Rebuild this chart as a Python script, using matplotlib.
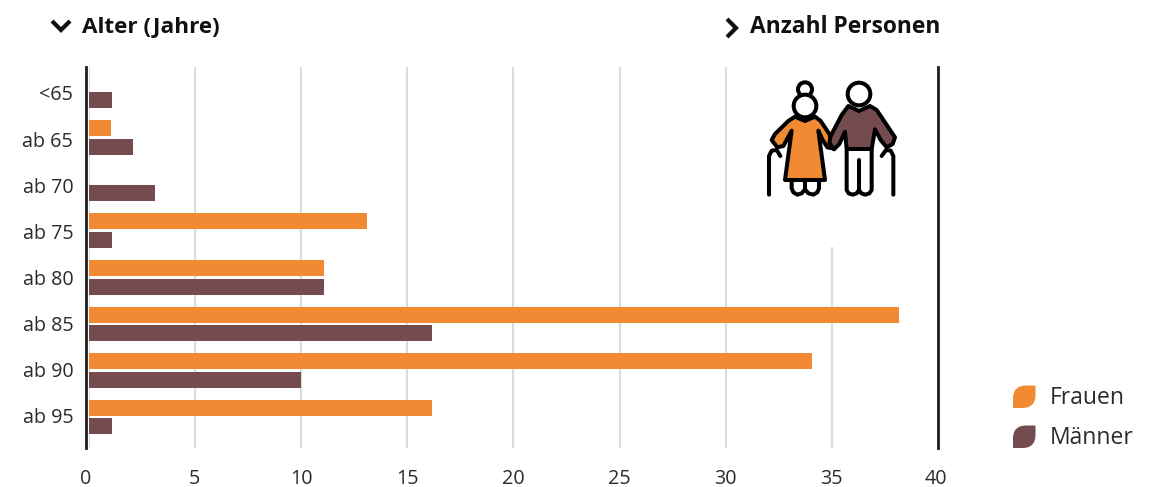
import matplotlib
matplotlib.use("Agg")
import matplotlib.pyplot as plt
import numpy as np
from matplotlib.path import Path
from matplotlib.patches import PathPatch, Circle, Polygon, Rectangle
from matplotlib.transforms import ScaledTranslation

categories = ["<65", "ab 65", "ab 70", "ab 75", "ab 80", "ab 85", "ab 90", "ab 95"]
frauen = [0, 1.05, 0, 13.1, 11.1, 38.15, 34.05, 16.15]
maenner = [1.1, 2.1, 3.1, 1.1, 11.1, 16.15, 10.0, 1.1]
x_ticks = [0, 5, 10, 15, 20, 25, 30, 35, 40]

ORANGE = "#F28A33"
MAROON = "#744C4F"
DARK = "#2B2B2B"
W, H = 1160, 487
plt.rcParams["font.family"] = ["Open Sans", "DejaVu Sans"]

fig = plt.figure(figsize=(W / 100, H / 100), dpi=100)
X0, X40, TOP, BOT = 88.7, 938.0, 67.0, 448.0
ax = fig.add_axes([X0 / W, 1 - BOT / H, (X40 - X0) / W, (BOT - TOP) / H])
RC0, RS = 90.9, 46.6
ax.set_xlim(0, 40)
ax.set_ylim((BOT - RC0) / RS, (TOP - RC0) / RS)
y = np.arange(len(categories))
off, bh = 9.3 / RS, 16.0 / RS
ax.barh(y - off, frauen, height=bh, color=ORANGE, zorder=3)
ax.barh(y + off, maenner, height=bh, color=MAROON, zorder=3)
ax.set_xticks(x_ticks)
ax.set_xticklabels([str(t) for t in x_ticks])
ax.set_yticks((93 + 46.1 * y - RC0) / RS)
ax.set_yticklabels(categories)
ax.tick_params(axis="both", length=0, labelsize=14.2, labelcolor=DARK)
ax.tick_params(axis="x", pad=15)
ax.tick_params(axis="y", pad=9.5)
ax.grid(axis="x", color="#DCDCDC", lw=1.5, zorder=0)
for s in ("top", "bottom"):
    ax.spines[s].set_visible(False)
ax.spines["left"].set_position(("outward", 1.7))
for s in ("left", "right"):
    ax.spines[s].set_linewidth(2.0)
    ax.spines[s].set_color("#1E1E1E")
    ax.spines[s].set_zorder(5)
fig.canvas.draw()
labs = ax.get_xticklabels()
for lab, dx in ((labs[0], -3), (labs[-1], -2)):
    lab.set_transform(lab.get_transform() + ScaledTranslation(dx / 100, 0, fig.dpi_scale_trans))

# pixel-coordinate overlay for decoration
ov = fig.add_axes([0, 0, 1, 1], facecolor="none")
ov.set_xlim(0, W)
ov.set_ylim(H, 0)
ov.axis("off")

ov.add_patch(Rectangle((745, TOP - 1), 180, 247 - TOP + 1, fc="white", ec="none", zorder=1))

def chevron(pts):
    xs, ys = zip(*pts)
    ov.plot(xs, ys, color="#111111", lw=3.0, solid_capstyle="butt", solid_joinstyle="miter", zorder=3)

chevron([(52, 21), (61, 30), (70, 21)])
chevron([(727, 19), (736, 28), (727, 37)])
ov.text(82.5, 27, "Alter (Jahre)", fontsize=16.2, fontweight="bold", color="#111111", va="center", ha="left")
ov.text(750.5, 27, "Anzahl Personen", fontsize=16.4, fontweight="bold", color="#111111", va="center", ha="left")

def leaf(x, y, s, r, color):
    v = [(x + r, y), (x + s, y), (x + s, y + s - r), (x + s, y + s - r * 0.35), (x + s - r * 0.35, y + s), (x + s - r, y + s),
         (x, y + s), (x, y + r), (x, y + r * 0.35), (x + r * 0.35, y), (x + r, y)]
    c = [Path.MOVETO, Path.LINETO, Path.LINETO, Path.CURVE4, Path.CURVE4, Path.CURVE4,
         Path.LINETO, Path.LINETO, Path.CURVE4, Path.CURVE4, Path.CURVE4]
    ov.add_patch(PathPatch(Path(v, c), fc=color, ec="none", zorder=3))

leaf(1013, 385.5, 22.5, 13, ORANGE)
leaf(1013, 425.5, 22.5, 13, MAROON)
ov.text(1049.5, 398, "Frauen", fontsize=16.5, color=DARK, va="center", ha="left")
ov.text(1049.5, 438, "Männer", fontsize=16.5, color=DARK, va="center", ha="left")

# icon, in zoom-crop coordinates
def P(pts):
    return [(740 + a / 3, 60 + b / 3) for a, b in pts]

LW = 2.9
def outline(pts, fc="none"):
    ov.add_patch(Polygon(P(pts), closed=True, fc=fc, ec="black", lw=LW, joinstyle="round", zorder=4))

def line(pts):
    xs, ys = zip(*P(pts))
    ov.plot(xs, ys, color="black", lw=LW, solid_capstyle="round", solid_joinstyle="round", zorder=4)

def circ(cx, cy, r):
    ov.add_patch(Circle((740 + cx / 3, 60 + cy / 3), r / 3, fc="white", ec="black", lw=LW, zorder=4))

# woman
circ(195, 88, 21)
circ(195, 138, 34)
outline([(165, 170), (195, 183), (225, 170), (242, 183), (268, 222), (283, 266), (262, 262), (248, 240), (235, 212),
         (255, 360), (135, 360), (155, 212), (130, 258), (112, 262), (95, 240), (105, 222), (145, 183)], ORANGE)
line([(155, 362), (155, 385), (160, 397), (172, 404), (185, 400), (195, 388), (205, 400), (220, 404), (232, 397), (237, 385), (237, 362)])
line([(195, 362), (195, 388)])
line([(87, 404), (87, 288), (95, 272), (110, 270), (121, 288)])
# man
circ(357, 102, 34)
outline([(325, 138), (357, 153), (390, 138), (410, 150), (465, 232), (458, 252), (440, 262), (422, 240), (405, 208),
         (395, 267), (320, 267), (315, 215), (298, 252), (282, 268), (268, 248), (272, 228), (305, 165)], MAROON)
line([(320, 270), (320, 390), (326, 400), (338, 404), (350, 400), (357, 390), (357, 300)])
line([(357, 390), (364, 400), (376, 404), (388, 400), (395, 390), (395, 270)])
line([(460, 404), (460, 288), (452, 272), (438, 270), (425, 288)])

fig.savefig("out.png", dpi=100)
